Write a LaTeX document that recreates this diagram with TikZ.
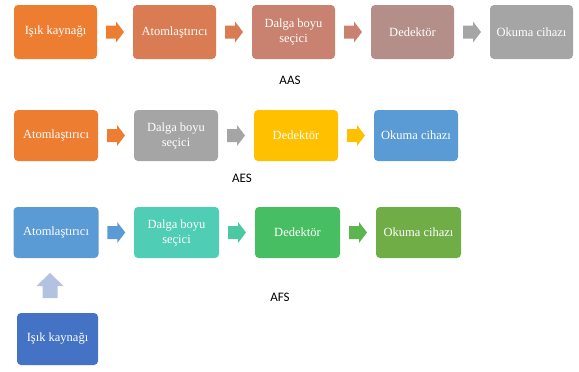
\documentclass[tikz,border=0pt]{standalone}
\usepackage{fontspec}
\setmainfont{Liberation Serif}
\newfontfamily\labelfont{Carlito}
\usetikzlibrary{calc}
\definecolor{cA}{HTML}{ED7D31}
\definecolor{cB}{HTML}{D97B53}
\definecolor{cC}{HTML}{C8826F}
\definecolor{cD}{HTML}{B48E88}
\definecolor{cE}{HTML}{A5A5A5}
\definecolor{cGold}{HTML}{FFC000}
\definecolor{cBlue}{HTML}{5B9BD5}
\definecolor{cTeal}{HTML}{4FCDB5}
\definecolor{cGreen}{HTML}{47BE62}
\definecolor{cOlive}{HTML}{70AD47}
\definecolor{cDark}{HTML}{4472C4}
\definecolor{cLight}{HTML}{B4C2E2}
\definecolor{aTeal}{HTML}{4CC9A0}
\definecolor{aGreen}{HTML}{5CB54E}
\tikzset{
  x=1pt,y=-1pt,
  stage/.style={rectangle,rounded corners=4pt,draw=none,fill=#1,text=white,
    minimum width=84pt,minimum height=52pt,inner sep=1pt,align=center,
    font=\fontsize{12.5}{15}\selectfont},
  tag/.style={font=\labelfont\fontsize{13}{15}\selectfont,text=black,inner sep=0pt}
}
% block arrow pointing right, centred on a named coordinate
\newcommand\blockright[2]{%
  \fill[#2,shift={(#1)}] (-9,-6.5) -- (1,-6.5) -- (1,-10.5) -- (9,0)
    -- (1,10.5) -- (1,6.5) -- (-9,6.5) -- cycle;}
% block arrow pointing up, centred on a named coordinate
\newcommand\blockup[2]{%
  \fill[#2,shift={(#1)}] (-7.5,12.5) -- (-7.5,0.5) -- (-13.5,0.5) -- (0,-12.5)
    -- (13.5,0.5) -- (7.5,0.5) -- (7.5,12.5) -- cycle;}
\begin{document}
\begin{tikzpicture}
\useasboundingbox (0,0) rectangle (579,372);
% AAS row
\node[stage=cA,minimum width=83pt,minimum height=54pt] (s11) at (55.5,32) {Işık kaynağı};
\node[stage=cB,minimum width=83pt,minimum height=54pt] (s12) at (174.5,32) {Atomlaştırıcı};
\node[stage=cC,minimum width=83pt,minimum height=54pt] (s13) at (293.5,32) {Dalga boyu\\seçici};
\node[stage=cD,minimum width=83pt,minimum height=54pt] (s14) at (412.5,32) {Dedektör};
\node[stage=cE,minimum width=83pt,minimum height=54pt] (s15) at (531.5,32) {Okuma cihazı};
\coordinate (r11) at ($(s11.east)!0.5!(s12.west)$);
\coordinate (r12) at ($(s12.east)!0.5!(s13.west)$);
\coordinate (r13) at ($(s13.east)!0.5!(s14.west)$);
\coordinate (r14) at ($(s14.east)!0.5!(s15.west)$);
\blockright{r11}{cA}
\blockright{r12}{cB}
\blockright{r13}{cC}
\blockright{r14}{cE}
\node[tag] (aas) at (290,80) {AAS};
% AES row
\node[stage=cA,minimum height=51pt] (s21) at (56,135.5) {Atomlaştırıcı};
\node[stage=cE,minimum height=51pt] (s22) at (176,135.5) {Dalga boyu\\seçici};
\node[stage=cGold,minimum height=51pt] (s23) at (296,135.5) {Dedektör};
\node[stage=cBlue,minimum height=51pt] (s24) at (416,135.5) {Okuma cihazı};
\coordinate (r21) at ($(s21.east)!0.5!(s22.west)$);
\coordinate (r22) at ($(s22.east)!0.5!(s23.west)$);
\coordinate (r23) at ($(s23.east)!0.5!(s24.west)$);
\blockright{r21}{cA}
\blockright{r22}{cE}
\blockright{r23}{cGold}
\node[tag] (aes) at (242,178) {AES};
% AFS row
\node[stage=cBlue,minimum width=85pt,minimum height=51pt] (s31) at (56,232.5) {Atomlaştırıcı};
\node[stage=cTeal,minimum width=85pt,minimum height=51pt] (s32) at (176.5,232.5) {Dalga boyu\\seçici};
\node[stage=cGreen,minimum width=85pt,minimum height=51pt] (s33) at (297.5,232.5) {Dedektör};
\node[stage=cOlive,minimum width=85pt,minimum height=51pt] (s34) at (418.5,232.5) {Okuma cihazı};
\coordinate (r31) at ($(s31.east)!0.5!(s32.west)$);
\coordinate (r32) at ($(s32.east)!0.5!(s33.west)$);
\coordinate (r33) at ($(s33.east)!0.5!(s34.west)$);
\blockright{r31}{cBlue}
\blockright{r32}{aTeal}
\blockright{r33}{aGreen}
\node[stage=cDark,minimum width=81pt,minimum height=52pt] (s35) at (57.5,339) {Işık kaynağı};
\coordinate (mid) at ($(s31.south)!0.5!(s35.north)$);
\coordinate (xa) at (50,0);
\coordinate (u31) at (xa |- mid);
\blockup{u31}{cLight}
\node[tag] (afs) at (280,297) {AFS};
\end{tikzpicture}
\end{document}
